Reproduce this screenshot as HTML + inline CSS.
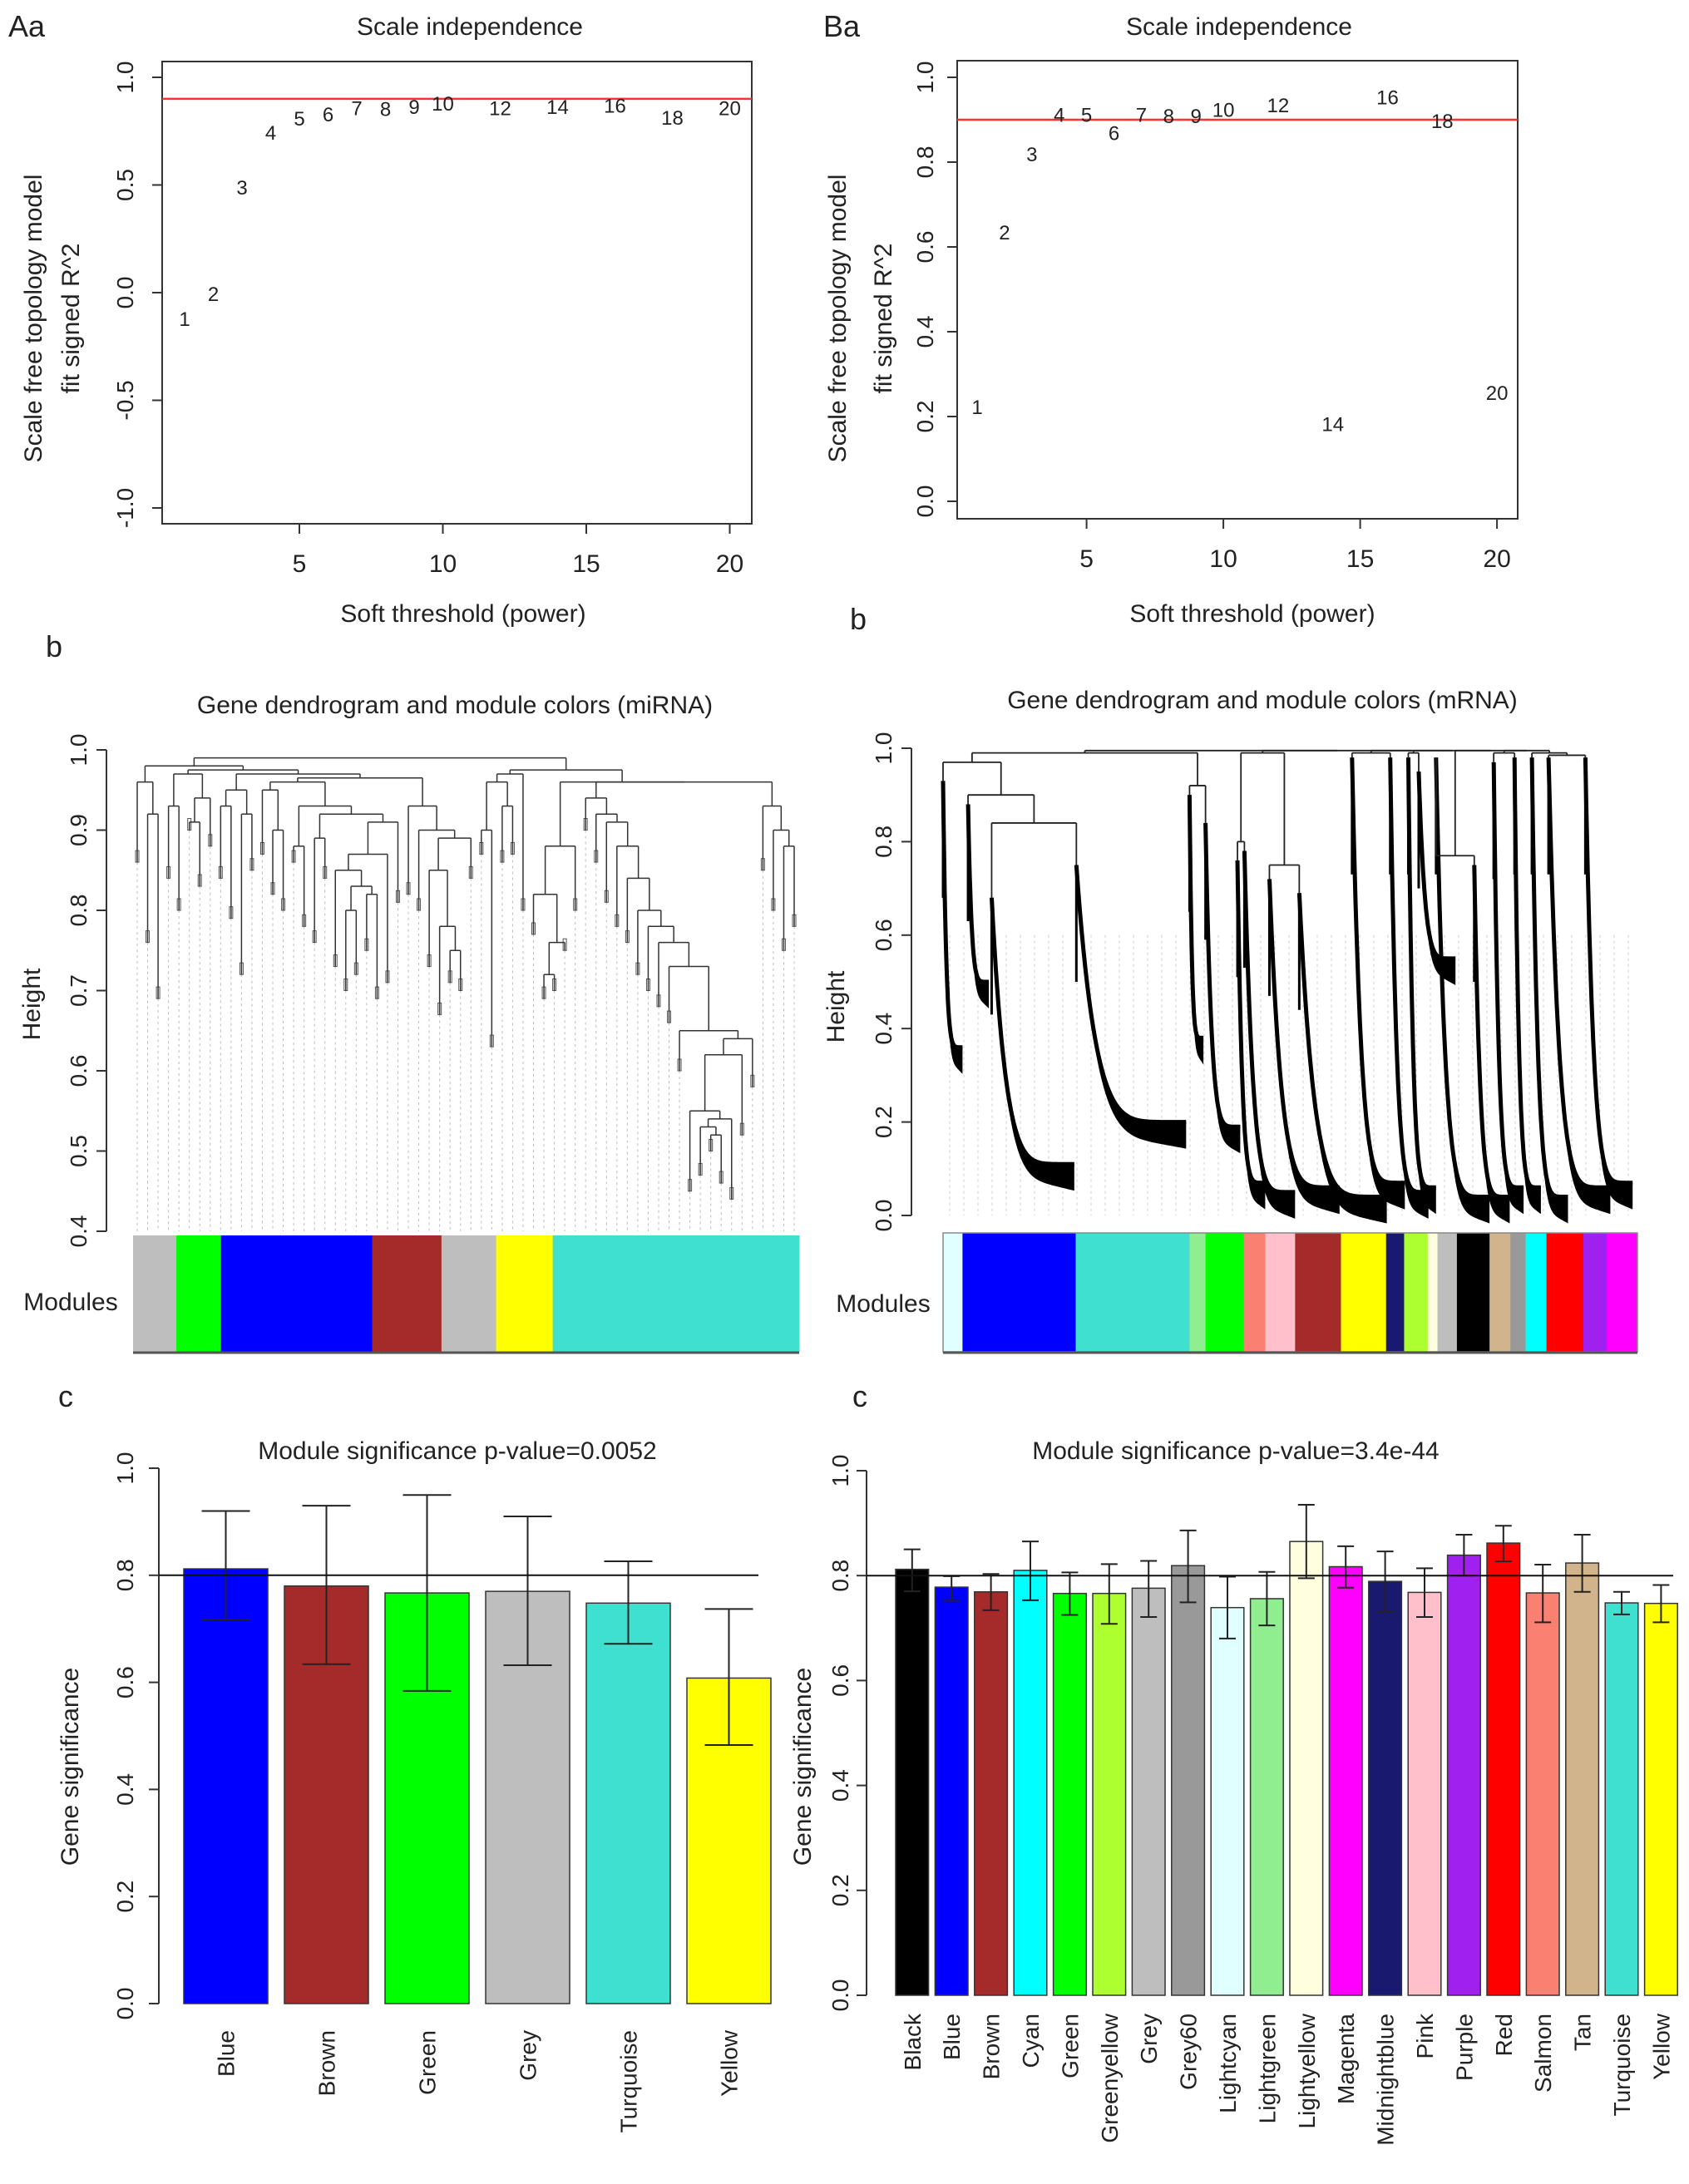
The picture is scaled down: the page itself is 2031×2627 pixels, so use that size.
<!DOCTYPE html>
<html><head><meta charset="utf-8"><style>
html,body{margin:0;padding:0;background:#fff;}
svg text{font-family:"Liberation Sans",Arial,sans-serif;fill:#222;}
</style></head><body>
<svg id="fig" xmlns="http://www.w3.org/2000/svg" width="2031" height="2622" viewBox="0 0 2031 2622">
<rect x="0" y="0" width="2031" height="2622" fill="#fff"/>
<g id="root"></g>
</svg>
<script>
// ---------- DATA ----------
const powers = [1,2,3,4,5,6,7,8,9,10,12,14,16,18,20];
const fitA = [-0.12,-0.003,0.49,0.745,0.81,0.83,0.86,0.855,0.865,0.88,0.86,0.865,0.87,0.815,0.86];
const fitB = [0.224,0.635,0.82,0.913,0.913,0.87,0.913,0.91,0.91,0.925,0.935,0.183,0.954,0.898,0.257];
const xTicksSI = [5,10,15,20];
const yTicksA = [1.0,0.5,0.0,-0.5,-1.0];
const yTicksB = [0.0,0.2,0.4,0.6,0.8,1.0];

const mirLeaf = [.86,.76,.69,.84,.80,.90,.83,.88, .84,.79,.72,.85, .87,.82,.80,.86,.78,.76,.84,.73,.70,.72,.75,.69,.71,.81, .82,.80,.73,.67,.71,.70,.84, .87,.63,.86,.87,.80, .77,.69,.70,.75,.80, .90,.86,.81,.78,.76,.72,.70,.68,.66,.60,.45,.47,.50,.46,.44,.52,.58, .85,.80,.75,.78];
const mirMerge = [.96,.92,.98,.93,.97,.91,.94, .975, .93,.95,.92, .97, .95,.90,.96,.88,.93,.89,.92,.85,.80,.83,.82,.87,.91, .965, .93,.90,.85,.78,.75,.89, .99, .90,.96,.93,.97, .975, .82,.72,.76,.88, .96, .94,.92,.91,.88,.84,.80,.78,.76,.73,.65,.55,.53,.52,.54,.62,.64, .96, .93,.90,.88];
const mirModNames = ["grey","green","blue","brown","grey","yellow","turquoise"];
const mirModFrac = [0,0.065,0.132,0.359,0.463,0.545,0.63,1];

const mrnaStart = [0,.036,.070,.192,.355,.378,.424,.434,.470,.513,.589,.644,.670,.685,.710,.765,.793,.823,.848,.872,.925,.962];
const mrnaTop = [.93,.88,.68,.75,.90,.84,.76,.78,.72,.69,.98,.98,.98,.95,.98,.75,.97,.98,.98,.98,.98];
const mrnaLow = [.36,.50,.11,.20,.38,.19,.07,.05,.06,.04,.07,.05,.06,.55,.04,.04,.06,.06,.04,.06,.07];
const mrnaEnd = [.028,.066,.189,.350,.375,.428,.464,.507,.571,.639,.665,.699,.710,.738,.787,.816,.836,.861,.900,.961,.993];
const mrnaMerge = [.97,.90,.84,.99,.92,.995,.80,.99,.75,.995,.99,.995,.99,.995,.77,.995,.99,.995,.99,.985];
const mrnaModNames = ["lightcyan","blue","turquoise","lightgreen","green","salmon","pink","brown","yellow","midnightblue","greenyellow","lightyellow","grey","black","tan","grey60","cyan","red","purple","magenta"];
const mrnaModFrac = [0,.028,.191,.355,.378,.433,.464,.507,.573,.638,.664,.698,.712,.740,.787,.817,.839,.869,.922,.956,1];

const gsCatsL = ["Blue","Brown","Green","Grey","Turquoise","Yellow"];
const gsValsL = [0.812,0.78,0.767,0.77,0.748,0.608];
const gsHiL = [0.92,0.93,0.95,0.91,0.826,0.737];
const gsLoL = [0.717,0.634,0.584,0.632,0.672,0.483];
const gsCatsR = ["Black","Blue","Brown","Cyan","Green","Greenyellow","Grey","Grey60","Lightcyan","Lightgreen","Lightyellow","Magenta","Midnightblue","Pink","Purple","Red","Salmon","Tan","Turquoise","Yellow"];
const gsValsR = [0.812,0.778,0.769,0.81,0.766,0.766,0.776,0.819,0.739,0.756,0.865,0.817,0.789,0.768,0.839,0.862,0.767,0.824,0.748,0.747];
const gsHiR = [0.85,0.799,0.803,0.865,0.806,0.822,0.828,0.886,0.798,0.807,0.935,0.856,0.846,0.814,0.878,0.895,0.821,0.878,0.769,0.782];
const gsLoR = [0.77,0.752,0.734,0.753,0.725,0.708,0.721,0.749,0.68,0.705,0.795,0.777,0.731,0.721,0.8,0.827,0.711,0.769,0.726,0.711];
const yTicksGS = [0.0,0.2,0.4,0.6,0.8,1.0];

const COLORS = {grey:"#bebebe",green:"#00ff00",blue:"#0000ff",brown:"#a52a2a",yellow:"#ffff00",turquoise:"#40e0d0",lightcyan:"#e0ffff",lightgreen:"#90ee90",salmon:"#fa8072",pink:"#ffc0cb",midnightblue:"#191970",greenyellow:"#adff2f",lightyellow:"#ffffe0",black:"#000000",tan:"#d2b48c",grey60:"#999999",cyan:"#00ffff",red:"#ff0000",purple:"#a020f0",magenta:"#ff00ff"};

// ---------- HELPERS ----------
const NS = "http://www.w3.org/2000/svg";
const root = document.getElementById("root");
function el(tag, attrs, parent){
  const e = document.createElementNS(NS, tag);
  for (const k in attrs) e.setAttribute(k, attrs[k]);
  (parent||root).appendChild(e);
  return e;
}
function txt(s, x, y, size, anchor, rot, parent){
  const t = el("text", {x:x, y:y, "font-size":size, "text-anchor":anchor||"middle"}, parent);
  if (rot) t.setAttribute("transform", "rotate("+rot+" "+x+" "+y+")");
  t.textContent = s;
  return t;
}
function line(x1,y1,x2,y2,stroke,w,parent){
  return el("line",{x1:x1,y1:y1,x2:x2,y2:y2,stroke:stroke||"#222","stroke-width":w||2},parent);
}

// ---------- PANEL LETTERS ----------
[["Aa",10,44],["Ba",990,44],["b",55,790],["b",1022,757],["c",70,1692],["c",1025,1692]].forEach(function(p,i){
  const t = txt(p[0], p[1], p[2], 36, "start");
  
  
});

// ---------- SCALE INDEPENDENCE ----------
function siChart(opt){
  const g = el("g", {});
  
  
  const sx = p => opt.x0 + (p - 1) * opt.px;
  const sy = v => opt.yTop + (opt.vTop - v) * opt.py;
  const title = txt("Scale independence", opt.tx, 42, 30, "middle", 0, g);
  
  
  const frame = el("rect", {x:opt.bx0, y:opt.by0, width:opt.bx1-opt.bx0, height:opt.by1-opt.by0, fill:"none", stroke:"#333", "stroke-width":2}, g);
  
  
  opt.yTicks.forEach(function(v){
    const y = sy(v);
    line(opt.bx0-12, y, opt.bx0, y, "#333", 2, g);
    const t = txt(v.toFixed(1), opt.ytx, y, 28, "middle", -90, g);
    
    
  });
  opt.xTicks.forEach(function(p){
    const x = sx(p);
    line(x, opt.by1, x, opt.by1+12, "#333", 2, g);
    const t = txt(String(p), x, opt.by1+58, 30, "middle", 0, g);
    
    
  });
  const rl = line(opt.bx0, sy(0.9), opt.bx1, sy(0.9), "#ff3030", 2.5, g);
  
  
  powers.forEach(function(p,i){
    const t = txt(String(p), sx(p), sy(opt.vals[i]) + 9, 24, "middle", 0, g);
    
    
  });
  const xl = txt("Soft threshold (power)", opt.xlx, 748, 30, "middle", 0, g);
  
  
  const yl1 = txt("Scale free topology model", opt.ylx1, 383, 30, "middle", -90, g);
  
  
  const yl2 = txt("fit signed R^2", opt.ylx2, 383, 30, "middle", -90, g);
  
  
}
siChart({name:"scale-independence-mirna", x0:222, px:34.5, yTop:93, vTop:1.0, py:259, bx0:195, bx1:904, by0:74, by1:630,
  yTicks:yTicksA, xTicks:xTicksSI, vals:fitA, tx:565, ytx:160, xlx:557, ylx1:50, ylx2:95});
siChart({name:"scale-independence-mrna", x0:1175, px:32.9, yTop:93, vTop:1.0, py:510, bx0:1151, bx1:1825, by0:73, by1:624,
  yTicks:yTicksB, xTicks:xTicksSI, vals:fitB, tx:1490, ytx:1122, xlx:1506, ylx1:1017, ylx2:1072});

// ---------- DENDROGRAM miRNA ----------
(function(){
  const g = el("g", {});
  
  
  const X0 = 165, X1 = 955;
  const hy = h => 902 + (1 - h) / 0.6 * 579;
  const lx = i => X0 + i * (X1 - X0) / (mirLeaf.length - 1);
  const t = txt("Gene dendrogram and module colors (miRNA)", 547, 858, 30, "middle", 0, g);
  
  
  line(128, hy(1.0), 128, hy(0.4), "#333", 2, g);
  [0.4,0.5,0.6,0.7,0.8,0.9,1.0].forEach(function(v){
    line(116, hy(v), 128, hy(v), "#333", 2, g);
    const tl = txt(v.toFixed(1), 104, hy(v), 28, "middle", -90, g);
    
    
  });
  const yl = txt("Height", 48, 1208, 30, "middle", -90, g);
  
  
  function node(i, j){
    if (i === j){
      const x = lx(i);
      line(x, hy(mirLeaf[i]), x, hy(0.4), "#bbb", 1, g).setAttribute("stroke-dasharray","3,4");
      el("rect",{x:x-2,y:hy(mirLeaf[i])-14,width:4,height:14,fill:"none",stroke:"#555","stroke-width":1},g);
      return {x:x, h:mirLeaf[i]};
    }
    let k = i, m = -1;
    for (let q = i; q < j; q++) if (mirMerge[q] > m){ m = mirMerge[q]; k = q; }
    const a = node(i, k), b = node(k+1, j);
    line(a.x, hy(m), b.x, hy(m), "#333", 1.5, g);
    line(a.x, hy(m), a.x, hy(a.h), "#333", 1.5, g);
    line(b.x, hy(m), b.x, hy(b.h), "#333", 1.5, g);
    return {x:(a.x+b.x)/2, h:m};
  }
  node(0, mirLeaf.length - 1);
  const mb = el("g", {}, g);
  
  
  const BX0 = 160, BX1 = 961;
  mirModNames.forEach(function(n, i){
    const r = el("rect", {x:BX0 + mirModFrac[i]*(BX1-BX0), y:1486, width:(mirModFrac[i+1]-mirModFrac[i])*(BX1-BX0)+0.5, height:140, fill:COLORS[n]}, mb);
    
    
  });
  line(BX0, 1627, BX1, 1627, "#555", 3, mb);
  const ml = txt("Modules", 85, 1576, 30, "middle", 0, g);
  
  
})();

// ---------- DENDROGRAM mRNA ----------
(function(){
  const g = el("g", {});
  
  
  const X0 = 1134, X1 = 1969;
  const hy = h => 1462 - h * 562;
  const fx = f => X0 + f * (X1 - X0);
  const t = txt("Gene dendrogram and module colors (mRNA)", 1518, 852, 30, "middle", 0, g);
  
  
  line(1096, hy(1.0), 1096, hy(0), "#333", 2, g);
  [0,0.2,0.4,0.6,0.8,1.0].forEach(function(v){
    line(1084, hy(v), 1096, hy(v), "#333", 2, g);
    const tl = txt(v.toFixed(1), 1072, hy(v), 28, "middle", -90, g);
    
    
  });
  const yl = txt("Height", 1015, 1211, 30, "middle", -90, g);
  
  
  for (let x = X0 + 8; x < X1; x += 17){
    line(x, hy(0.6), x, hy(0), "#ccc", 1, g).setAttribute("stroke-dasharray","3,4");
  }
  mrnaTop.forEach(function(top, i){
    const x0 = fx(mrnaStart[i]), x1 = fx(mrnaEnd[i]), low = mrnaLow[i];
    let up = [], dn = [], cur = [];
    for (let s = 0; s <= 60; s++){
      const tt = s / 60;
      const h = low + (top - low) * Math.pow(1 - tt, 6);
      const x = x0 + tt * (x1 - x0);
      up.push(x.toFixed(1) + "," + hy(h).toFixed(1));
      cur.push((s ? "L" : "M") + x.toFixed(1) + "," + hy(h).toFixed(1));
      dn.unshift(x.toFixed(1) + "," + (hy(h) + 8 + 24 * tt).toFixed(1));
    }
    const p = el("polygon", {points: up.concat(dn).join(" "), fill:"#000"}, g);
    
    
    el("path", {d:cur.join(""), fill:"none", stroke:"#000", "stroke-width":5}, g);
    line(x0, hy(top), x0, hy(Math.max(low, top - 0.25)), "#000", 3, g);
  });
  function node(i, j){
    if (i === j) return {x:fx(mrnaStart[i]), h:mrnaTop[i]};
    let k = i, m = -1;
    for (let q = i; q < j; q++) if (mrnaMerge[q] > m){ m = mrnaMerge[q]; k = q; }
    const a = node(i, k), b = node(k+1, j);
    line(a.x, hy(m), b.x, hy(m), "#222", 1.8, g);
    line(a.x, hy(m), a.x, hy(a.h), "#222", 1.8, g);
    line(b.x, hy(m), b.x, hy(b.h), "#222", 1.8, g);
    return {x:(a.x+b.x)/2, h:m};
  }
  node(0, mrnaTop.length - 1);
  const mb = el("g", {}, g);
  
  
  mrnaModNames.forEach(function(n, i){
    const r = el("rect", {x:fx(mrnaModFrac[i]), y:1483, width:(mrnaModFrac[i+1]-mrnaModFrac[i])*(X1-X0)+0.5, height:143, fill:COLORS[n]}, mb);
    
    
  });
  el("rect",{x:X0,y:1483,width:X1-X0,height:143,fill:"none",stroke:"#888","stroke-width":1.5},mb);
  line(X0, 1627, X1, 1627, "#555", 3, mb);
  const ml = txt("Modules", 1062, 1578, 30, "middle", 0, g);
  
  
})();

// ---------- GENE SIGNIFICANCE BARS ----------
function gsChart(opt){
  const g = el("g", {});
  
  
  const sy = v => opt.y0 - v * opt.py;
  const t = txt(opt.title, opt.tx, 1755, 30, "middle", 0, g);
  
  
  line(opt.ax, sy(0), opt.ax, sy(1), "#333", 2, g);
  yTicksGS.forEach(function(v){
    line(opt.ax-12, sy(v), opt.ax, sy(v), "#333", 2, g);
    const tl = txt(v.toFixed(1), opt.ytx, sy(v), 28, "middle", -90, g);
    
    
  });
  const yl = txt("Gene significance", opt.ylx, 2125, 30, "middle", -90, g);
  
  
  opt.cats.forEach(function(c, i){
    const x = opt.bx0 + i * opt.pitch;
    const cx = x + opt.bw / 2;
    const r = el("rect", {x:x, y:sy(opt.vals[i]), width:opt.bw, height:opt.vals[i]*opt.py, fill:COLORS[c.toLowerCase()], stroke:"#333", "stroke-width":1.5}, g);
    
    
    const eb = el("path", {d:"M"+(cx-opt.cap)+","+sy(opt.hi[i])+"H"+(cx+opt.cap)+"M"+cx+","+sy(opt.hi[i])+"V"+sy(opt.lo[i])+"M"+(cx-opt.cap)+","+sy(opt.lo[i])+"H"+(cx+opt.cap), stroke:"#222", "stroke-width":2, fill:"none"}, g);
    
    
    const lt = txt(c, cx + 10, opt.labY, 28, "end", -90, g);
    
    
  });
  const rl = line(opt.ax, sy(0.8), opt.rx1, sy(0.8), "#111", 2, g);
  
  
}
gsChart({name:"gene-significance-mirna", title:"Module significance p-value=0.0052", tx:550, y0:2410, py:644, ax:191, ytx:160, ylx:94,
  cats:gsCatsL, vals:gsValsL, hi:gsHiL, lo:gsLoL, bx0:221, pitch:121, bw:101, cap:29, labY:2442, rx1:912});
gsChart({name:"gene-significance-mrna", title:"Module significance p-value=3.4e-44", tx:1486, y0:2400, py:631, ax:1042, ytx:1020, ylx:975,
  cats:gsCatsR, vals:gsValsR, hi:gsHiR, lo:gsLoR, bx0:1077, pitch:47.4, bw:39.6, cap:10, labY:2422, rx1:2012});
</script>
</body></html>
